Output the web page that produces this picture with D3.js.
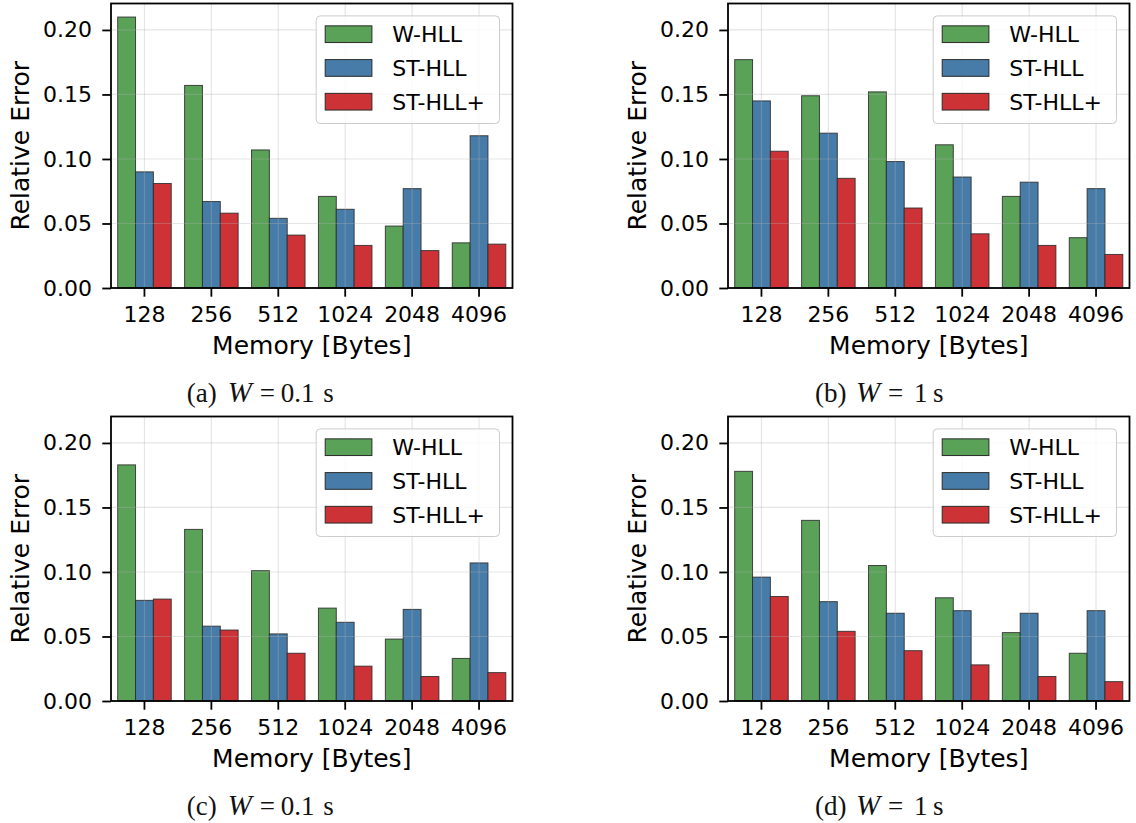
<!DOCTYPE html>
<html>
<head>
<meta charset="utf-8">
<script src="https://cdn.jsdelivr.net/npm/d3@7"></script>
<style>
  html, body { margin: 0; padding: 0; background: #ffffff; }
  svg { display: block; }
</style>
</head>
<body>
<svg id="chart" width="1136" height="823"></svg>
<script>
// ---------- data ----------
const categories = ["128", "256", "512", "1024", "2048", "4096"];
const seriesNames = ["W-HLL", "ST-HLL", "ST-HLL+"];
const yTicks = [0, 0.05, 0.10, 0.15, 0.20];

// (a) W = 0.1 s
const aWHLL   = [0.210, 0.157, 0.107, 0.071, 0.048, 0.035];
const aSTHLL  = [0.090, 0.067, 0.054, 0.061, 0.077, 0.118];
const aSTHLLp = [0.081, 0.058, 0.041, 0.033, 0.029, 0.034];
// (b) W = 1 s
const bWHLL   = [0.177, 0.149, 0.152, 0.111, 0.071, 0.039];
const bSTHLL  = [0.145, 0.120, 0.098, 0.086, 0.082, 0.077];
const bSTHLLp = [0.106, 0.085, 0.062, 0.042, 0.033, 0.026];
// (c) W = 0.1 s
const cWHLL   = [0.183, 0.133, 0.101, 0.072, 0.048, 0.033];
const cSTHLL  = [0.078, 0.058, 0.052, 0.061, 0.071, 0.107];
const cSTHLLp = [0.079, 0.055, 0.037, 0.027, 0.019, 0.022];
// (d) W = 1 s
const dWHLL   = [0.178, 0.140, 0.105, 0.080, 0.053, 0.037];
const dSTHLL  = [0.096, 0.077, 0.068, 0.070, 0.068, 0.070];
const dSTHLLp = [0.081, 0.054, 0.039, 0.028, 0.019, 0.015];

const colors = ["#59a257", "#477ca8", "#cd3336"];

const panels = [
  { left: 111, top: 3.5,   series: [aWHLL, aSTHLL, aSTHLLp], lab: "(a)", val: "0.1" },
  { left: 728, top: 3.5,   series: [bWHLL, bSTHLL, bSTHLLp], lab: "(b)", val: "1" },
  { left: 111, top: 416.5, series: [cWHLL, cSTHLL, cSTHLLp], lab: "(c)", val: "0.1" },
  { left: 728, top: 416.5, series: [dWHLL, dSTHLL, dSTHLLp], lab: "(d)", val: "1" }
];

const W = 401.5, H = 284.5;
const yMax = 0.2205;
const svg = d3.select("#chart");
const sans = "'DejaVu Sans', sans-serif";
const serif = "'Liberation Serif', 'DejaVu Serif', serif";

panels.forEach(p => {
  const g = svg.append("g").attr("transform", `translate(${p.left},${p.top})`);

  const x = d3.scaleBand().domain(categories).range([0, W]).paddingInner(0.2).paddingOuter(0.1);
  const xs = d3.scaleBand().domain(seriesNames).range([0, x.bandwidth()]);
  const y = d3.scaleLinear().domain([0, yMax]).range([H, 0]);

  // bars
  seriesNames.forEach((s, j) => {
    g.append("g").selectAll("rect")
      .data(p.series[j])
      .join("rect")
      .attr("x", (d, i) => x(categories[i]) + xs(s))
      .attr("y", d => y(d))
      .attr("width", xs.bandwidth())
      .attr("height", d => y(0) - y(d))
      .attr("fill", colors[j])
      .attr("stroke", "#2a2a2a")
      .attr("stroke-opacity", 0.85)
      .attr("stroke-width", 1);
  });

  // grid (drawn above bars)
  const grid = g.append("g").attr("stroke", "#b0b0b0").attr("stroke-opacity", 0.33).attr("stroke-width", 1.2);
  yTicks.forEach(t => {
    grid.append("line").attr("x1", 0).attr("x2", W).attr("y1", y(t)).attr("y2", y(t));
  });
  categories.forEach(c => {
    const cx = x(c) + x.bandwidth() / 2;
    grid.append("line").attr("x1", cx).attr("x2", cx).attr("y1", 0).attr("y2", H);
  });

  // axes
  const xAxis = g.append("g").attr("transform", `translate(0,${H})`)
    .call(d3.axisBottom(x).tickSize(8.7).tickPadding(10).tickSizeOuter(0));
  const yAxis = g.append("g")
    .call(d3.axisLeft(y).tickValues(yTicks).tickFormat(d3.format(".2f")).tickSize(8.7).tickPadding(10.3).tickSizeOuter(0));
  [xAxis, yAxis].forEach(a => {
    a.select(".domain").remove();
    a.selectAll(".tick line").attr("stroke", "#000").attr("stroke-width", 1.8);
    a.selectAll(".tick text").attr("fill", "#000").style("font-family", sans).style("font-size", "22px");
  });

  // spines
  g.append("rect").attr("x", 0).attr("y", 0).attr("width", W).attr("height", H)
    .attr("fill", "none").attr("stroke", "#000").attr("stroke-width", 1.8);

  // legend
  const lg = g.append("g").attr("transform", `translate(${W - 196.3},12.4)`);
  lg.append("rect").attr("width", 183.3).attr("height", 107.6).attr("rx", 4)
    .attr("fill", "#fff").attr("fill-opacity", 0.8).attr("stroke", "#cccccc").attr("stroke-width", 1);
  seriesNames.forEach((s, j) => {
    const cy = 18.3 + j * 33.75;
    lg.append("rect").attr("x", 9).attr("y", cy - 8.35).attr("width", 46.7).attr("height", 16.7)
      .attr("fill", colors[j]).attr("stroke", "#2a2a2a").attr("stroke-width", 1);
    lg.append("text").attr("x", 76).attr("y", cy + 8).text(s)
      .style("font-family", sans).style("font-size", "22px").attr("fill", "#000");
  });

  // axis labels
  g.append("text").attr("x", W / 2).attr("y", H + 66).attr("text-anchor", "middle")
    .style("font-family", sans).style("font-size", "25px").attr("fill", "#000").text("Memory [Bytes]");
  g.append("text").attr("transform", `translate(-81.7,${H / 2}) rotate(-90)`).attr("text-anchor", "middle")
    .style("font-family", sans).style("font-size", "25px").attr("fill", "#000").text("Relative Error");

  // caption
  const cap = g.append("text").attr("y", H + 114).style("font-family", serif).style("font-size", "27px").attr("fill", "#111");
  const x0 = (p.val === "1") ? 87 : 75.7;
  cap.append("tspan").attr("x", x0).text(p.lab);
  cap.append("tspan").attr("x", x0 + 41).style("font-style", "italic").style("font-size", "29px").text("W");
  cap.append("tspan").attr("x", x0 + 73).text("=");
  if (p.val === "1") {
    cap.append("tspan").attr("x", x0 + 99).text("1");
    cap.append("tspan").attr("x", x0 + 118).text("s");
  } else {
    cap.append("tspan").attr("x", x0 + 94).text("0.1");
    cap.append("tspan").attr("x", x0 + 136.5).text("s");
  }
});
</script>
</body>
</html>
